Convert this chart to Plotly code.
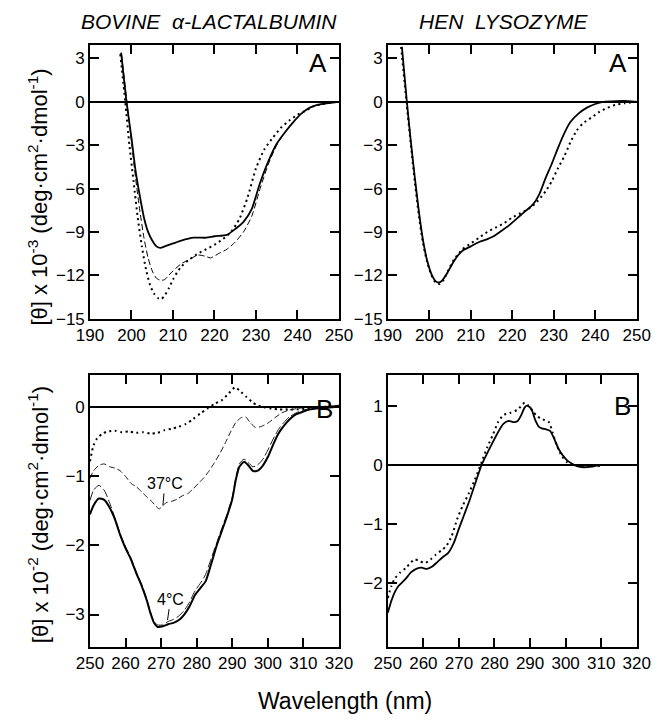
import plotly.graph_objects as go
from plotly.subplots import make_subplots

# ---------------- DATA ----------------
# Panel A (far-UV), bovine alpha-lactalbumin
la_far_solid_x = [197.5, 198.8, 200, 201, 202, 203, 204, 205, 206, 207, 208, 210, 212, 215, 218, 220, 223, 225, 227, 229, 231, 233, 235, 237, 239, 241, 243, 245, 247, 250]
la_far_solid_y = [3.4, 0, -2.5, -4.8, -6.5, -8.0, -9.0, -9.6, -10.0, -10.1, -10.0, -9.8, -9.6, -9.4, -9.4, -9.3, -9.2, -8.8, -8.3, -7.4, -5.6, -4.1, -2.9, -2.1, -1.4, -0.8, -0.4, -0.2, -0.1, 0.0]
la_far_dash_x = [197.6, 198.9, 200, 201, 202, 203, 204, 205, 206, 207, 208, 209, 210, 212, 214, 216, 218, 219, 221, 223, 225, 227, 229, 231, 233, 235, 237, 239, 241, 243, 245, 247, 250]
la_far_dash_y = [3.3, 0, -2.8, -5.3, -7.5, -9.4, -10.8, -11.7, -12.2, -12.35, -12.3, -12.0, -11.7, -11.2, -10.9, -10.6, -10.7, -10.8, -10.5, -10.2, -9.7, -9.0, -7.9, -6.0, -4.3, -3.0, -2.1, -1.4, -0.8, -0.4, -0.2, -0.1, 0.0]
la_far_dot_x = [197.3, 198.5, 199.5, 200.5, 201.5, 202.5, 203.5, 204.5, 205.5, 206.5, 207.2, 208, 209, 210, 211, 212, 214, 216, 218, 220, 222, 224, 226, 228, 230, 232, 234, 236, 238, 240, 242, 244, 246, 248, 250]
la_far_dot_y = [3.3, 0, -3.0, -5.5, -8.0, -10.0, -11.6, -12.7, -13.3, -13.6, -13.65, -13.4, -12.9, -12.3, -11.8, -11.4, -10.9, -10.5, -10.2, -9.9, -9.5, -9.0, -8.1, -6.6, -4.6, -3.3, -2.5, -1.8, -1.3, -0.9, -0.6, -0.3, -0.15, -0.05, 0.0]

# Panel A (far-UV), hen lysozyme
ly_far_solid_x = [193.4, 194.6, 195.5, 196.5, 197.5, 198.5, 199.5, 200.5, 201.5, 202.3, 203, 204, 205, 206, 207, 208, 210, 212, 214, 215.5, 217, 219, 221, 223, 225, 226.5, 228, 229.5, 231, 232.5, 234, 236, 238, 240, 242, 245, 248, 250]
ly_far_solid_y = [3.8, 0, -2.6, -5.2, -7.6, -9.6, -11.0, -11.9, -12.4, -12.5, -12.4, -12.0, -11.5, -11.0, -10.6, -10.3, -10.0, -9.7, -9.5, -9.3, -9.0, -8.6, -8.1, -7.6, -7.1, -6.4, -5.3, -4.3, -3.2, -2.2, -1.4, -0.8, -0.4, -0.15, 0.0, 0.05, 0.05, 0.0]
ly_far_dot_x = [193.2, 194.5, 195.5, 196.5, 197.5, 198.5, 199.5, 200.5, 201.5, 202.5, 203.5, 204.5, 206, 208, 210, 212, 214, 216, 218, 220, 222, 224, 226, 228, 229.5, 231, 232.5, 234, 235.5, 237, 239, 241, 243, 245, 247, 250]
ly_far_dot_y = [3.8, 0, -2.8, -5.5, -7.9, -9.8, -11.1, -12.0, -12.5, -12.6, -12.3, -11.7, -10.9, -10.2, -9.8, -9.4, -9.0, -8.7, -8.4, -8.0, -7.7, -7.4, -6.9, -6.2, -5.5, -4.6, -3.8, -2.8, -2.0, -1.5, -1.1, -0.7, -0.4, -0.2, -0.1, 0.0]

# Panel B (near-UV), bovine alpha-lactalbumin
la_near_x = [250, 251, 252.5, 254, 255.5, 257, 258.5, 260, 261.5, 263, 264.5, 266, 267, 268, 269, 270.5, 272, 273.5, 275, 276.5, 278, 279.5, 281, 282.5, 284, 285.5, 287, 288.5, 290, 291, 292, 293.3, 294.5, 295.8, 297, 298.5, 300, 301.5, 303, 304.5, 306, 308, 310, 312, 315, 318, 320]
la_4c_solid_y = [-1.55, -1.42, -1.32, -1.34, -1.45, -1.62, -1.85, -2.04, -2.2, -2.4, -2.58, -2.8, -2.98, -3.12, -3.18, -3.17, -3.14, -3.12, -3.08, -3.0, -2.88, -2.72, -2.62, -2.52, -2.28, -2.02, -1.8, -1.58, -1.33, -1.05, -0.86, -0.79, -0.84, -0.92, -0.92, -0.85, -0.72, -0.54, -0.38, -0.27, -0.18, -0.1, -0.06, -0.03, -0.01, 0.0, 0.02]
la_4c_dash_y = [-1.35, -1.2, -1.13, -1.2, -1.38, -1.6, -1.83, -2.02, -2.18, -2.38, -2.56, -2.78, -2.96, -3.1, -3.15, -3.15, -3.1, -3.07, -3.02, -2.94, -2.82, -2.66, -2.55, -2.42, -2.2, -1.98, -1.76, -1.55, -1.3, -1.02, -0.82, -0.75, -0.8, -0.86, -0.84, -0.76, -0.62, -0.46, -0.32, -0.22, -0.14, -0.08, -0.04, -0.02, 0.0, 0.02, 0.03]
la_37c_x = [250, 251, 252.5, 254, 255.5, 257, 258.5, 260, 261.5, 263, 264.5, 266, 267.5, 268.5, 269.5, 270.5, 271.5, 273, 274.5, 276, 277.5, 279, 280.5, 282, 283.5, 285, 286.5, 288, 289.5, 291, 292.5, 293.8, 295, 296.5, 298, 300, 302, 304, 306, 308, 311, 315, 320]
la_37c_y = [-1.03, -0.92, -0.84, -0.82, -0.86, -0.88, -0.92, -1.0, -1.1, -1.15, -1.22, -1.3, -1.37, -1.43, -1.47, -1.42, -1.38, -1.36, -1.33, -1.28, -1.25, -1.18, -1.1, -1.02, -0.92, -0.8, -0.67, -0.52, -0.36, -0.22, -0.15, -0.14, -0.22, -0.29, -0.28, -0.23, -0.15, -0.08, -0.04, -0.02, 0.0, 0.01, 0.02]
la_dot_x = [250, 251, 252, 253.5, 255, 257, 259, 261, 263, 265, 267, 269, 271, 273, 275, 277, 279, 281, 283, 285, 287, 289, 290.8, 292.5, 294, 295.5, 297, 299, 301, 303, 305, 308, 311, 314, 317, 320]
la_dot_y = [-0.78, -0.55, -0.45, -0.38, -0.35, -0.34, -0.36, -0.35, -0.37, -0.36, -0.38, -0.37, -0.33, -0.31, -0.28, -0.24, -0.17, -0.09, -0.02, 0.05, 0.1, 0.2, 0.29, 0.22, 0.15, 0.08, 0.03, 0.0, -0.02, -0.03, -0.03, -0.03, -0.02, 0.0, 0.01, 0.02]

# Panel B (near-UV), hen lysozyme
ly_near_solid_x = [250, 251, 252, 253, 254, 255, 256.5, 258, 259.5, 261, 262.5, 264, 265.5, 267, 268.5, 270, 271.5, 273, 274.5, 276.4, 278, 279.5, 281, 282.5, 284, 285.5, 286.5, 287.6, 288.5, 289.2, 290.3, 291.5, 292.5, 293.5, 294.5, 295.7, 297, 298, 299.3, 300.5, 301.5, 303, 304.5, 306, 307.5, 309, 310]
ly_near_solid_y = [-2.5, -2.3, -2.15, -2.05, -1.99, -1.93, -1.82, -1.76, -1.74, -1.76, -1.72, -1.64, -1.56, -1.49, -1.33, -1.08, -0.84, -0.6, -0.33, 0.0, 0.2, 0.38, 0.55, 0.69, 0.74, 0.72, 0.74, 0.85, 0.97, 1.0, 0.95, 0.75, 0.64, 0.61, 0.6, 0.57, 0.41, 0.27, 0.15, 0.07, 0.03, -0.02, -0.04, -0.04, -0.03, -0.01, 0.0]
ly_near_dot_x = [250, 251, 252, 253.5, 255, 256.5, 257.5, 259, 260.5, 262, 263.5, 265, 266.5, 268, 269.5, 271, 272.8, 274.5, 276.4, 278, 279.5, 281, 282.5, 284.5, 286.5, 288.5, 289.5, 290.8, 292, 293.5, 295.3, 296.3, 297.5, 299, 300.5, 302, 304, 306, 308, 310]
ly_near_dot_y = [-2.25, -2.05, -1.92, -1.82, -1.75, -1.65, -1.6, -1.63, -1.66, -1.6, -1.52, -1.45, -1.37, -1.2, -0.92, -0.7, -0.48, -0.25, 0.05, 0.3, 0.5, 0.72, 0.84, 0.88, 0.93, 1.05, 1.0, 0.9, 0.82, 0.77, 0.72, 0.55, 0.33, 0.14, 0.04, 0.0, -0.02, -0.02, -0.02, -0.02]

col_titles = ["BOVINE\u00a0\u00a0α-LACTALBUMIN", "HEN\u00a0\u00a0LYSOZYME"]
far_xticks = [190, 200, 210, 220, 230, 240, 250]
near_xticks = [250, 260, 270, 280, 290, 300, 310, 320]
far_yticks = [-15, -12, -9, -6, -3, 0, 3]
la_near_yticks = [-3, -2, -1, 0]
ly_near_yticks = [-2, -1, 0, 1]

# ---------------- FIGURE ----------------
W, H = 660, 720
FONT = "Liberation Sans, Arial, sans-serif"
fig = make_subplots(rows=2, cols=2)

def px_x(p):
    return p / W

def px_y(p):
    return 1 - p / H

dom_x = [[px_x(71), px_x(331)], [px_x(382), px_x(642)]]
dom_y = [[px_y(315), px_y(38)], [px_y(648), px_y(372)]]

def line(dash, width):
    return dict(color="black", width=width, dash=dash, shape="spline", smoothing=0.6)

SOLID = line("solid", 1.8)
DOT = line("2px,3.5px", 2)
DASH = line("6px,3px", 1)

# top-left
fig.add_trace(go.Scatter(x=la_far_dot_x, y=la_far_dot_y, mode="lines", line=DOT), 1, 1)
fig.add_trace(go.Scatter(x=la_far_dash_x, y=la_far_dash_y, mode="lines", line=DASH), 1, 1)
fig.add_trace(go.Scatter(x=la_far_solid_x, y=la_far_solid_y, mode="lines", line=SOLID), 1, 1)
# top-right
fig.add_trace(go.Scatter(x=ly_far_dot_x, y=ly_far_dot_y, mode="lines", line=DOT), 1, 2)
fig.add_trace(go.Scatter(x=ly_far_solid_x, y=ly_far_solid_y, mode="lines", line=SOLID), 1, 2)
# bottom-left
fig.add_trace(go.Scatter(x=la_dot_x, y=la_dot_y, mode="lines", line=DOT), 2, 1)
fig.add_trace(go.Scatter(x=la_37c_x, y=la_37c_y, mode="lines", line=line("6px,3px", 0.9)), 2, 1)
fig.add_trace(go.Scatter(x=la_near_x, y=la_4c_solid_y, mode="lines", line=line("solid", 2)), 2, 1)
fig.add_trace(go.Scatter(x=la_near_x, y=la_4c_dash_y, mode="lines", line=line("9px,3px", 0.9)), 2, 1)
# bottom-right
fig.add_trace(go.Scatter(x=ly_near_dot_x, y=ly_near_dot_y, mode="lines", line=DOT), 2, 2)
fig.add_trace(go.Scatter(x=ly_near_solid_x, y=ly_near_solid_y, mode="lines", line=SOLID), 2, 2)

axis_common = dict(showline=True, linecolor="black", linewidth=1.5, mirror="ticks",
                   ticks="inside", ticklen=9, tickwidth=1.5, tickcolor="black",
                   showgrid=False, tickfont=dict(family=FONT, size=17, color="black"))

ranges = {
    (1, 1): ([190, 250], [-15, 3.9], far_xticks, far_yticks),
    (1, 2): ([190, 250], [-15, 3.9], far_xticks, far_yticks),
    (2, 1): ([250, 320], [-3.47, 0.47], near_xticks, la_near_yticks),
    (2, 2): ([250, 320], [-3.08, 1.52], near_xticks, ly_near_yticks),
}
for (r, c), (xr, yr, xt, yt) in ranges.items():
    fig.update_xaxes(range=xr, tickvals=xt, zeroline=False, domain=dom_x[c - 1], row=r, col=c, **axis_common)
    fig.update_yaxes(range=yr, tickvals=yt, zeroline=True, zerolinecolor="black", zerolinewidth=1.5,
                     domain=dom_y[r - 1], row=r, col=c, **axis_common)

ann = []
# column titles
ann.append(dict(text="<i>" + col_titles[0] + "</i>", x=px_x(195), y=px_y(14), xref="paper", yref="paper",
                showarrow=False, font=dict(family=FONT, size=21, color="black"),
                xanchor="center", yanchor="middle"))
ann.append(dict(text="<i>" + col_titles[1] + "</i>", x=px_x(503), y=px_y(14), xref="paper", yref="paper",
                showarrow=False, font=dict(family=FONT, size=21, color="black"),
                xanchor="center", yanchor="middle"))
# panel letters
for txt, xx, yy in [("A", 309, 56), ("A", 622, 56), ("B", 316, 407), ("B", 627, 404)]:
    ann.append(dict(text=txt, x=px_x(xx), y=px_y(yy), xref="paper", yref="paper", showarrow=False,
                    font=dict(family=FONT, size=26, color="black"), xanchor="center", yanchor="middle"))
# y-axis titles
ann.append(dict(text="[θ] x 10<sup>-3</sup> (deg·cm<sup>2</sup>·dmol<sup>-1</sup>)", x=px_x(17), y=px_y(192),
                xref="paper", yref="paper", showarrow=False, textangle=-90,
                font=dict(family=FONT, size=22, color="black"), xanchor="center", yanchor="middle"))
ann.append(dict(text="[θ] x 10<sup>-2</sup> (deg·cm<sup>2</sup>·dmol<sup>-1</sup>)", x=px_x(17), y=px_y(514),
                xref="paper", yref="paper", showarrow=False, textangle=-90,
                font=dict(family=FONT, size=22, color="black"), xanchor="center", yanchor="middle"))
# x-axis title
ann.append(dict(text="Wavelength (nm)", x=px_x(337), y=px_y(703), xref="paper", yref="paper", showarrow=False,
                font=dict(family=FONT, size=23, color="black"), xanchor="center", yanchor="middle"))
# temperature labels
ann.append(dict(text="37°C", x=270.5, y=-1.42, xref="x3", yref="y3", showarrow=True, arrowhead=0,
                arrowwidth=1, arrowcolor="black", ax=2, ay=-22, standoff=0,
                font=dict(family=FONT, size=16, color="black")))
ann.append(dict(text="4°C", x=271.8, y=-3.08, xref="x3", yref="y3", showarrow=True, arrowhead=0,
                arrowwidth=1, arrowcolor="black", ax=3, ay=-21, standoff=0,
                font=dict(family=FONT, size=16, color="black")))

fig.update_layout(width=W, height=H, margin=dict(l=0, r=0, t=0, b=0), showlegend=False,
                  plot_bgcolor="white", paper_bgcolor="white", annotations=ann,
                  font=dict(family=FONT, color="black"))
fig.write_html("out.html")
